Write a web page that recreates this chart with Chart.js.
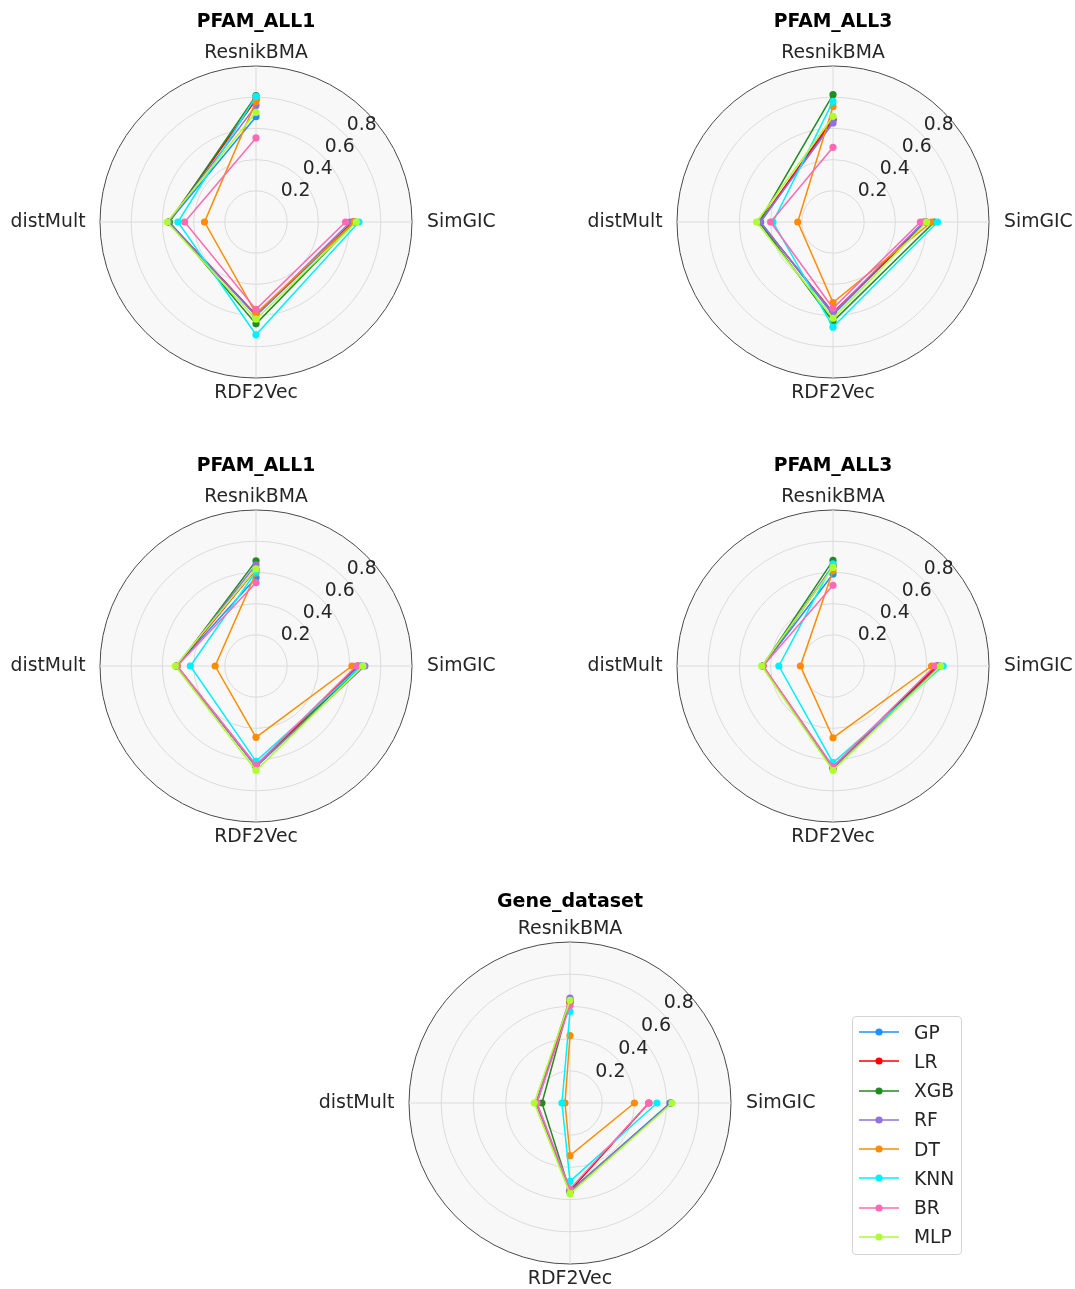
<!DOCTYPE html>
<html><head><meta charset="utf-8">
<script src="https://cdn.jsdelivr.net/npm/chart.js@4.4.1/dist/chart.umd.min.js"></script>
<style>
html,body{margin:0;padding:0;background:#fff;overflow:hidden;width:1075px;height:1289px}
#wrap{position:relative;width:1075px;height:1289px;overflow:hidden;background:#fff}
#wrap canvas{position:absolute}
#legend{position:absolute;left:852px;top:1016px;width:110px;height:239px;border:1px solid #d4d4d4;border-radius:4px;background:#fff;font-family:"DejaVu Sans";font-size:18.7px;color:#262626;box-sizing:border-box}
#legend .row{position:absolute;left:0;height:26px;display:flex;align-items:center;white-space:nowrap}
#legend svg{display:block;margin-left:5px;margin-right:14px}
</style></head><body><div id="wrap"><div id="legend"></div></div>
<script>
// ---- data ----
// axes in clockwise order starting at the right (SimGIC); ResnikBMA sits at the top
const categories = ['SimGIC', 'RDF2Vec', 'distMult', 'ResnikBMA'];
const models = ['GP', 'LR', 'XGB', 'RF', 'DT', 'KNN', 'BR', 'MLP'];
const titles = ['PFAM_ALL1', 'PFAM_ALL3', 'PFAM_ALL1', 'PFAM_ALL3', 'Gene_dataset'];
const tickValues = [0.2, 0.4, 0.6, 0.8];
const tickLabels = ['0.2', '0.4', '0.6', '0.8'];

// rows follow models order, columns follow categories order
const pfamAll1Top = [
  [0.630, 0.600, 0.560, 0.675],
  [0.620, 0.595, 0.560, 0.785],
  [0.636, 0.653, 0.555, 0.810],
  [0.604, 0.600, 0.560, 0.746],
  [0.630, 0.585, 0.330, 0.773],
  [0.660, 0.723, 0.500, 0.805],
  [0.574, 0.560, 0.457, 0.539],
  [0.643, 0.623, 0.570, 0.703]
];
const pfamAll3Top = [
  [0.590, 0.596, 0.464, 0.650],
  [0.600, 0.580, 0.470, 0.660],
  [0.649, 0.638, 0.474, 0.816],
  [0.580, 0.585, 0.468, 0.635],
  [0.632, 0.517, 0.226, 0.741],
  [0.670, 0.674, 0.385, 0.773],
  [0.560, 0.553, 0.400, 0.479],
  [0.600, 0.617, 0.490, 0.677]
];
const pfamAll1Mid = [
  [0.665, 0.640, 0.510, 0.566],
  [0.650, 0.640, 0.510, 0.620],
  [0.675, 0.645, 0.506, 0.674],
  [0.698, 0.645, 0.510, 0.649],
  [0.615, 0.457, 0.262, 0.596],
  [0.675, 0.611, 0.421, 0.606],
  [0.643, 0.635, 0.505, 0.534],
  [0.685, 0.670, 0.517, 0.623]
];
const pfamAll3Mid = [
  [0.670, 0.650, 0.450, 0.590],
  [0.665, 0.650, 0.450, 0.640],
  [0.680, 0.655, 0.452, 0.677],
  [0.685, 0.655, 0.450, 0.645],
  [0.632, 0.460, 0.209, 0.610],
  [0.706, 0.620, 0.347, 0.655],
  [0.653, 0.645, 0.448, 0.517],
  [0.690, 0.670, 0.457, 0.632]
];
const geneDataset = [
  [0.621, 0.549, 0.207, 0.635],
  [0.490, 0.545, 0.210, 0.625],
  [0.628, 0.549, 0.174, 0.640],
  [0.628, 0.549, 0.210, 0.652],
  [0.400, 0.327, 0.031, 0.418],
  [0.540, 0.487, 0.050, 0.569],
  [0.489, 0.534, 0.205, 0.605],
  [0.634, 0.563, 0.222, 0.638]
];
const panelValues = [pfamAll1Top, pfamAll3Top, pfamAll1Mid, pfamAll3Mid, geneDataset];

// ---- styles / layout ----
const seriesColors = ['#1e90ff', '#ff0000', '#228b22', '#9370db', '#ff8c00', '#00f0ff', '#ff69b4', '#adff2f'];
const panels = [
  {cx: 256,   cy: 221.7, R: 156.5, font: 18.8, titleGap: 39, topGap: 8},
  {cx: 832.7, cy: 221.7, R: 156.5, font: 18.8, titleGap: 39, topGap: 8},
  {cx: 256,   cy: 666,   R: 156.5, font: 18.8, titleGap: 39, topGap: 8},
  {cx: 832.7, cy: 666,   R: 156.5, font: 18.8, titleGap: 39, topGap: 8},
  {cx: 570,   cy: 1103,  R: 161,   font: 19.0, titleGap: 35, topGap: 7.7}
];
const CW = 600, CH = 460;
const FONT = '"DejaVu Sans", "Liberation Sans", sans-serif';

// the original polylines are open (no segment back from the last axis to the first)
const openLinePlugin = {
  id: 'openLine',
  afterDatasetsUpdate(chart) {
    chart.getSortedVisibleDatasetMetas().forEach(meta => {
      const line = meta.dataset;
      if (!line) return;
      line._loop = false;
      line._fullLoop = false;
      delete line._segments;
      delete line._path;
    });
  }
};

const decoPlugin = {
  id: 'radarDeco',
  beforeDraw(chart, args, opts) {
    const s = chart.scales.r;
    const ctx = chart.ctx;
    ctx.save();
    ctx.beginPath();
    ctx.arc(s.xCenter, s.yCenter, s.drawingArea, 0, Math.PI * 2);
    ctx.fillStyle = '#f8f8f8';
    ctx.fill();
    ctx.restore();
  },
  afterDraw(chart, args, opts) {
    const s = chart.scales.r;
    const ctx = chart.ctx;
    const cx = s.xCenter, cy = s.yCenter, R = s.drawingArea;
    const fs = opts.font;
    ctx.save();
    // title
    ctx.font = 'bold ' + fs + 'px ' + FONT;
    ctx.fillStyle = '#000';
    ctx.textAlign = 'center';
    ctx.textBaseline = 'alphabetic';
    ctx.fillText(opts.title, cx, cy - R - opts.titleGap);
    // axis labels
    ctx.font = fs + 'px ' + FONT;
    ctx.fillStyle = '#262626';
    categories.forEach((lab, i) => {
      const probe = s.getPointPosition(i, 10);
      const dx = probe.x - cx, dy = probe.y - cy;
      let p;
      if (Math.abs(dy) > Math.abs(dx)) {
        ctx.textAlign = 'center'; ctx.textBaseline = 'alphabetic';
        p = s.getPointPosition(i, dy < 0 ? R + opts.topGap : R + 20);
      } else if (dx > 0) {
        ctx.textAlign = 'left'; ctx.textBaseline = 'middle';
        p = s.getPointPosition(i, R + 15);
      } else {
        ctx.textAlign = 'right'; ctx.textBaseline = 'middle';
        p = s.getPointPosition(i, R + 14.5);
      }
      ctx.fillText(lab, p.x, p.y);
    });
    // radial tick labels along 45 degrees
    ctx.textAlign = 'left'; ctx.textBaseline = 'alphabetic';
    tickValues.forEach((v, i) => {
      const d = s.getDistanceFromCenterForValue(v);
      ctx.fillText(tickLabels[i], cx + d * Math.SQRT1_2 + 2.6, cy - d * Math.SQRT1_2 - 3.5);
    });
    ctx.restore();
  }
};

const wrap = document.getElementById('wrap');
panels.forEach((pn, k) => {
  const cv = document.createElement('canvas');
  cv.width = CW; cv.height = CH;
  cv.style.width = CW + 'px'; cv.style.height = CH + 'px';
  cv.style.left = (pn.cx - CW / 2) + 'px';
  cv.style.top = (pn.cy - CH / 2) + 'px';
  wrap.insertBefore(cv, document.getElementById('legend'));
  const px = (CW - 2 * pn.R) / 2, py = (CH - 2 * pn.R) / 2;
  new Chart(cv, {
    type: 'radar',
    data: {
      labels: categories,
      datasets: models.map((m, i) => ({
        label: m,
        data: panelValues[k][i],
        borderColor: seriesColors[i],
        backgroundColor: seriesColors[i],
        pointBackgroundColor: seriesColors[i],
        pointBorderColor: seriesColors[i],
        pointBorderWidth: 0,
        pointRadius: 3.6,
        borderWidth: 1.5,
        fill: false,
        tension: 0,
        order: models.length - 1 - i
      }))
    },
    options: {
      responsive: false,
      animation: false,
      devicePixelRatio: 1,
      layout: {padding: {left: px, right: px, top: py, bottom: py}},
      plugins: {
        legend: {display: false},
        tooltip: {enabled: false},
        radarDeco: {title: titles[k], font: pn.font, titleGap: pn.titleGap, topGap: pn.topGap}
      },
      scales: {
        r: {
          min: 0, max: 1,
          startAngle: 90,
          ticks: {display: false, stepSize: 0.2},
          pointLabels: {display: false},
          grid: {
            circular: true,
            color: c => (c.tick && Math.abs(c.tick.value - 1) < 1e-6 ? '#4a4a4a' : '#dcdcdc'),
            lineWidth: 1
          },
          angleLines: {color: '#dcdcdc', lineWidth: 1}
        }
      }
    },
    plugins: [openLinePlugin, decoPlugin]
  });
});

// legend
const lg = document.getElementById('legend');
models.forEach((m, i) => {
  const row = document.createElement('div');
  row.className = 'row';
  row.style.top = (16 + i * 29.25 - 13 - 1) + 'px';
  const c = seriesColors[i];
  row.innerHTML = '<svg width="42" height="10" viewBox="0 0 42 10"><line x1="1" y1="5" x2="41" y2="5" stroke="' + c +
    '" stroke-width="2" stroke-opacity="0.75"/><circle cx="21" cy="5" r="3.6" fill="' + c + '"/></svg><span>' + m + '</span>';
  lg.appendChild(row);
});
</script>
</body></html>
